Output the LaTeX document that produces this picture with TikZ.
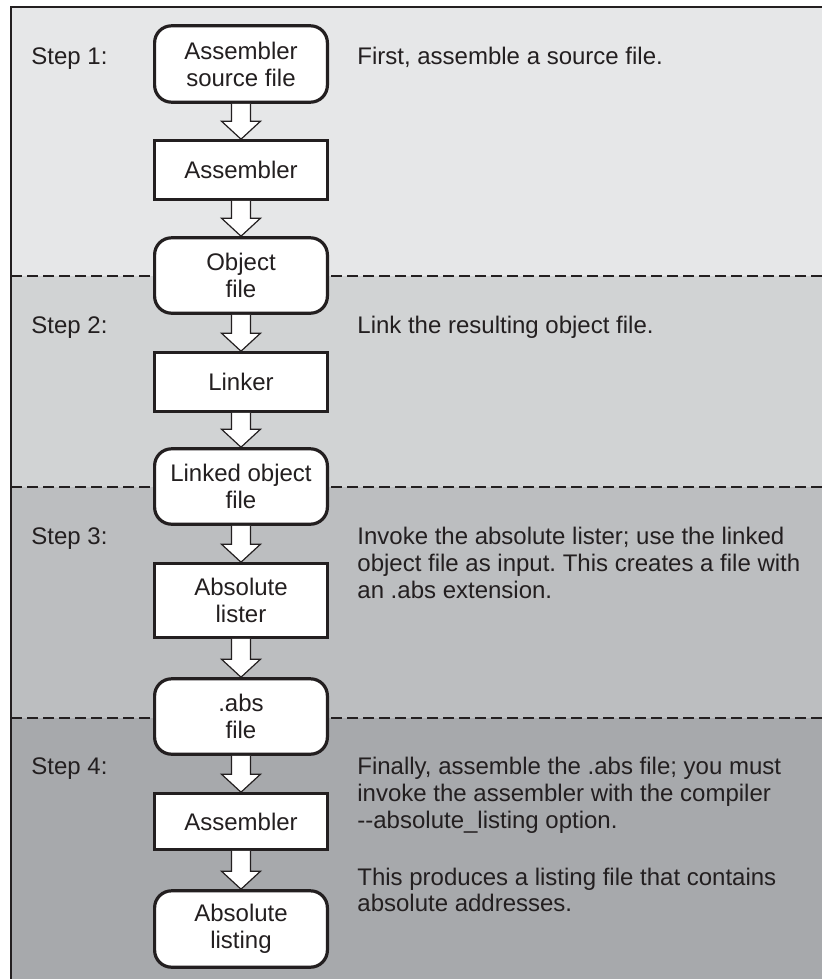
\documentclass[tikz,border=0pt]{standalone}
\usepackage{fontspec}
\setmainfont{Liberation Sans}
\usetikzlibrary{calc}
\definecolor{bandA}{HTML}{E6E7E8}
\definecolor{bandB}{HTML}{D1D3D4}
\definecolor{bandC}{HTML}{BCBEC0}
\definecolor{bandD}{HTML}{A7A9AC}
\definecolor{ink}{HTML}{231F20}
\newcommand{\blockarrow}[2]{%
  \path[barrow] ($(#1.south)+(-4.75pt,0)$) -- ($(#2.north)+(-4.75pt,9pt)$) -- ($(#2.north)+(-9.75pt,9pt)$) -- (#2.north) -- ($(#2.north)+(9.75pt,9pt)$) -- ($(#2.north)+(4.75pt,9pt)$) -- ($(#1.south)+(4.75pt,0)$);}
\frenchspacing
\begin{document}
\begin{tikzpicture}[x=0.5pt,y=-0.5pt,
  font=\fontsize{12}{13.5}\selectfont, text=ink,
  box/.style={draw=ink, line width=1.6pt, fill=white, minimum width=86.4pt, align=center, inner sep=0pt},
  rbox/.style={box, rounded corners=8.5pt},
  barrow/.style={draw=ink, line width=0.6pt, fill=white, line join=miter},
  sep/.style={draw=ink, line width=1.2pt, dash pattern=on 5.5pt off 2.5pt},
  lbl/.style={anchor=base west, inner sep=0pt}]
\useasboundingbox (0,0) rectangle (822,979);
\fill[white] (0,0) rectangle (822,979);
\fill[bandA] (11,7) rectangle (822,276);
\fill[bandB] (11,276) rectangle (822,487);
\fill[bandC] (11,487) rectangle (822,718);
\fill[bandD] (11,718) rectangle (822,979);
\draw[sep] (11,276) -- (822,276);
\draw[sep] (11,487) -- (822,487);
\draw[sep] (11,718) -- (822,718);
\draw[ink, line width=1pt] (11,979) -- (11,7) -- (822,7);

% flow boxes
\node[rbox, minimum height=38.2pt] (src) at (241,64) {Assembler\\source file};
\node[box, minimum height=29.2pt] (asm1) at (241,170) {Assembler};
\node[rbox, minimum height=37.7pt] (obj) at (241,275.5) {Object\\file};
\node[box, minimum height=29.2pt] (lnk) at (241,382) {Linker};
\node[rbox, minimum height=37.7pt] (lobj) at (241,486.5) {Linked object\\file};
\node[box, minimum height=36.7pt] (abl) at (241,600.5) {Absolute\\lister};
\node[rbox, minimum height=37.7pt] (abs) at (241,716.5) {.abs\\file};
\node[box, minimum height=27.7pt] (asm2) at (241,821.5) {Assembler};
\node[rbox, minimum height=38.2pt] (absl) at (241,929) {Absolute\\listing};

\blockarrow{src}{asm1}
\blockarrow{asm1}{obj}
\blockarrow{obj}{lnk}
\blockarrow{lnk}{lobj}
\blockarrow{lobj}{abl}
\blockarrow{abl}{abs}
\blockarrow{abs}{asm2}
\blockarrow{asm2}{absl}

% step labels
\node[lbl] (s1) at (31,65) {Step 1:};
\node[lbl] (s2) at (31,333) {Step 2:};
\node[lbl] (s3) at (31,544) {Step 3:};
\node[lbl] (s4) at (31,774) {Step 4:};

% descriptions
\node[lbl] (d1) at (357,65) {First, assemble a source file.};
\node[lbl] (d2) at (357,333) {Link the resulting object file.};
\node[lbl] (d3a) at (357,544) {Invoke the absolute lister; use the linked};
\node[lbl] (d3b) at (357,571) {object file as input. This creates a file with};
\node[lbl] (d3c) at (357,598) {an .abs extension.};
\node[lbl] (d4a) at (357,774) {Finally, assemble the .abs file; you must};
\node[lbl] (d4b) at (357,801) {invoke the assembler with the compiler};
\node[lbl] (d4c) at (357,828) {-{}-absolute\_listing option.};
\node[lbl] (d4d) at (357,885) {This produces a listing file that contains};
\node[lbl] (d4e) at (357,911) {absolute addresses.};
\end{tikzpicture}
\end{document}
